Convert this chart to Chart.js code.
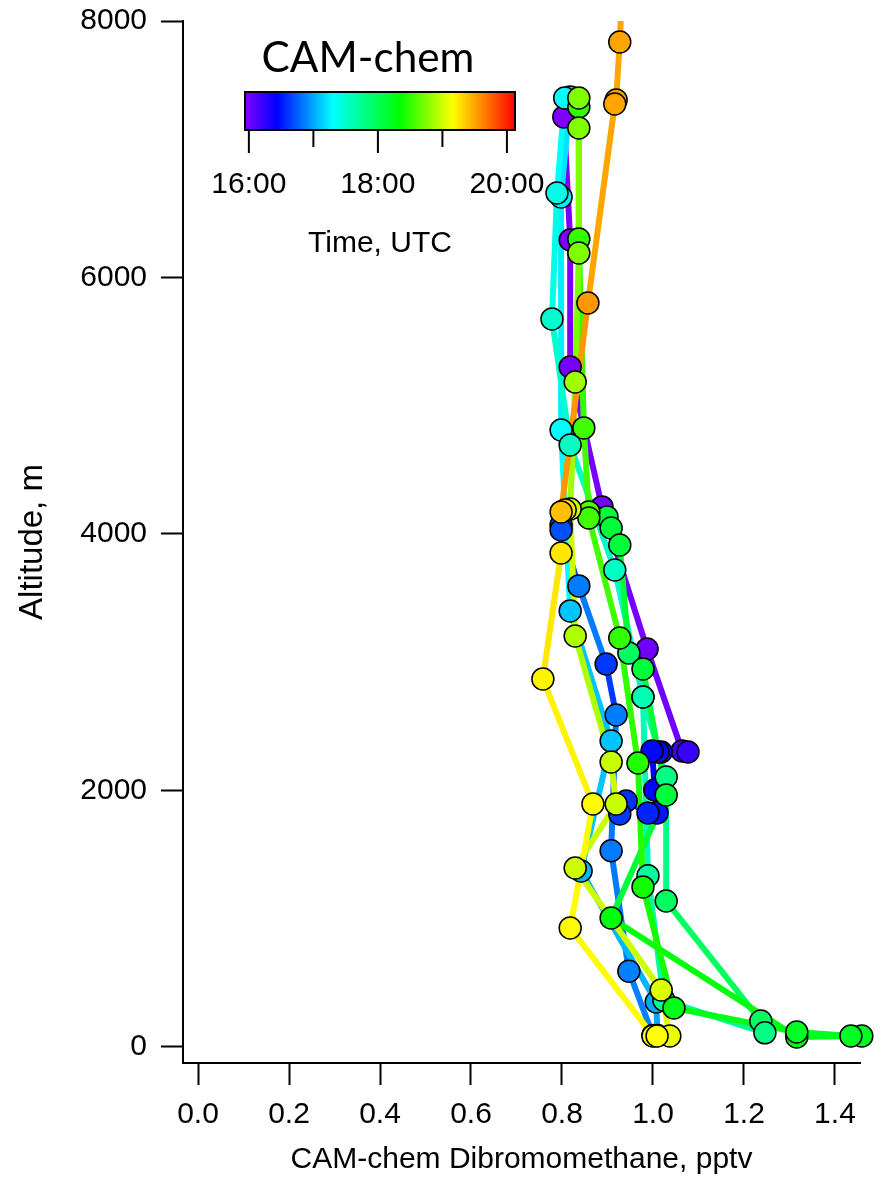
<!DOCTYPE html>
<html>
<head>
<meta charset="utf-8">
<title>CAM-chem Dibromomethane profiles</title>
<script src="https://cdn.jsdelivr.net/npm/chart.js"></script>
<style>
  body { margin: 0; background: #fff; }
  #chart { display: block; }
</style>
</head>
<body>
<canvas id="chart" width="884" height="1182"></canvas>
<script>
// vertical profiles: x = CH2Br2 (pptv), y = altitude (m), t = time (UTC, hours)
const violetX = [0.804, 0.818, 0.818, 0.888, 0.987, 1.064, 1.077];
const violetY = [7252, 6292, 5302, 4211, 3103, 2308, 2300];
const violetT = [15.95, 15.95, 15.97, 15.98, 16.0, 16.2, 16.22];

const blueX = [1.018, 1.011, 0.998, 1.004, 1.009, 0.989, 0.941, 0.927];
const blueY = [2300, 2300, 2308, 2004, 1825, 1825, 1918, 1817];
const blueT = [16.4, 16.42, 16.45, 16.45, 16.5, 16.55, 16.6, 16.62];

const azureX = [0.798, 0.798, 0.837, 0.897, 0.919, 0.908, 0.947, 1.0];
const azureY = [4070, 4031, 3595, 2986, 2589, 1530, 590, 90];
const azureT = [16.7, 16.7, 16.85, 16.62, 16.85, 16.85, 16.87, 16.9];

const cyanX = [0.818, 0.798, 0.798, 0.818, 0.908, 0.842, 1.007, 1.01];
const cyanY = [7407, 6628, 4811, 3400, 2386, 1372, 351, 90];
const cyanT = [17.2, 17.25, 17.3, 17.1, 17.1, 17.05, 17.0, 17.0];

const tealX = [0.806, 0.789, 0.778, 0.818, 0.916, 0.978, 1.029, 1.029, 1.237];
const tealY = [7400, 6659, 5676, 4694, 3719, 2729, 2105, 1138, 203];
const tealT = [17.3, 17.4, 17.5, 17.55, 17.55, 17.6, 17.8, 17.95, 17.95];

const springX = [0.978, 0.989, 1.024, 1.246];
const springY = [2729, 1335, 364, 110];
const springT = [17.6, 17.7, 17.75, 17.8];

const greenX = [0.899, 0.908, 0.927, 0.947, 0.978, 1.029, 0.908, 1.316, 1.459];
const greenY = [4133, 4047, 3914, 3072, 2947, 1965, 1006, 78, 86];
const greenT = [18.1, 18.1, 18.1, 17.95, 18.1, 18.1, 18.3, 18.25, 18.2];

const limeX = [0.837, 0.837, 0.848, 0.859, 0.859, 0.927, 0.967, 0.978, 1.046, 1.316, 1.435];
const limeY = [7329, 6300, 4827, 4172, 4125, 3189, 2214, 1248, 304, 117, 86];
const limeT = [18.5, 18.5, 18.55, 18.6, 18.55, 18.5, 18.45, 18.4, 18.25, 18.2, 18.2];

const chartreuseX = [0.837, 0.837, 0.837, 0.829, 0.818, 0.829, 0.908, 0.919, 0.829, 1.018, 1.037];
const chartreuseY = [7400, 7166, 6191, 5185, 4195, 3205, 2222, 1895, 1396, 444, 86];
const chartreuseT = [18.75, 18.75, 18.75, 18.85, 19.0, 18.9, 18.98, 18.98, 19.0, 19.05, 19.1];

const yellowX = [0.807, 0.798, 0.758, 0.868, 0.818, 1.0, 1.009];
const yellowY = [4187, 3852, 2869, 1895, 928, 86, 86];
const yellowT = [19.25, 19.25, 19.2, 19.17, 19.17, 19.16, 19.16];

const orangeX = [0.935, 0.927, 0.919, 0.916, 0.857, 0.798];
const orangeY = [8500, 7836, 7384, 7353, 5801, 4172];
const orangeT = [19.5, 19.5, 19.5, 19.5, 19.55, 19.4];

// axes
const xMin = -0.033, xMax = 1.455;
const yMin = -125, yMax = 8000;
const xTicks = [0, 0.2, 0.4, 0.6, 0.8, 1.0, 1.2, 1.4];
const yTicks = [0, 2000, 4000, 6000, 8000];

// rainbow colour scale (time, UTC)
const cmapTimes = [15.94, 16.43, 17.3, 18.34, 19.16, 20.125];
const cmapColors = ['#8000ff', '#0000ff', '#00ffff', '#00ff00', '#ffff00', '#ff0000'];
const barTicks = [16, 17, 18, 19, 20];
const barLabels = ['16:00', '', '18:00', '', '20:00'];

const profiles = [
  [violetX, violetY, violetT],
  [blueX, blueY, blueT],
  [azureX, azureY, azureT],
  [cyanX, cyanY, cyanT],
  [tealX, tealY, tealT],
  [springX, springY, springT],
  [greenX, greenY, greenT],
  [limeX, limeY, limeT],
  [chartreuseX, chartreuseY, chartreuseT],
  [yellowX, yellowY, yellowT],
  [orangeX, orangeY, orangeT]
];

const FONT = "'Liberation Sans', Arial, sans-serif";

function hexRgb(h) {
  return [1, 3, 5].map(i => parseInt(h.slice(i, i + 2), 16));
}

function colorOf(t) {
  const n = cmapTimes.length;
  if (t <= cmapTimes[0]) return cmapColors[0];
  if (t >= cmapTimes[n - 1]) return cmapColors[n - 1];
  let i = 0;
  while (t > cmapTimes[i + 1]) i++;
  const f = (t - cmapTimes[i]) / (cmapTimes[i + 1] - cmapTimes[i]);
  const a = hexRgb(cmapColors[i]), b = hexRgb(cmapColors[i + 1]);
  const c = a.map((v, k) => Math.round(v + (b[k] - v) * f));
  return `rgb(${c[0]},${c[1]},${c[2]})`;
}

// lines first (underneath), then markers; later profiles on top
const datasets = [];
profiles.forEach(([xs, ys, ts], i) => {
  const pts = xs.map((x, j) => ({ x, y: ys[j] }));
  datasets.push({
    data: pts,
    showLine: true,
    borderWidth: 6,
    borderColor: colorOf(ts[0]),
    borderJoinStyle: 'round',
    borderCapStyle: 'round',
    segment: { borderColor: c => colorOf(ts[c.p0DataIndex]) },
    pointRadius: 0,
    order: 100 - i
  });
  datasets.push({
    data: pts,
    showLine: false,
    clip: false,
    pointRadius: 11,
    pointBackgroundColor: ts.map(colorOf),
    pointBorderColor: '#000',
    pointBorderWidth: 1.5,
    order: -i
  });
});

// colour bar with the "CAM-chem" heading, top left of the plot
const colorBar = {
  id: 'colorBar',
  afterDraw(chart) {
    const ctx = chart.ctx;
    const left = 245, right = 515, top = 92, bottom = 130;
    const t0 = cmapTimes[0], t1 = cmapTimes[cmapTimes.length - 1];
    const tx = t => left + (t - t0) / (t1 - t0) * (right - left);
    ctx.save();
    const grad = ctx.createLinearGradient(left, 0, right, 0);
    cmapTimes.forEach((t, i) => grad.addColorStop((t - t0) / (t1 - t0), cmapColors[i]));
    ctx.fillStyle = grad;
    ctx.fillRect(left, top, right - left, bottom - top);
    ctx.strokeStyle = '#000';
    ctx.lineWidth = 2;
    ctx.strokeRect(left, top, right - left, bottom - top);

    ctx.fillStyle = '#000';
    ctx.font = '30px ' + FONT;
    ctx.textAlign = 'center';
    ctx.textBaseline = 'middle';
    barTicks.forEach((t, i) => {
      const x = tx(t);
      ctx.beginPath();
      ctx.moveTo(x, bottom);
      ctx.lineTo(x, bottom + (barLabels[i] ? 23 : 17));
      ctx.stroke();
      if (barLabels[i]) ctx.fillText(barLabels[i], x, 185);
    });
    ctx.fillText('Time, UTC', 380, 244);

    // heading, sized to the width of the original
    ctx.font = "40px Lato, 'Open Sans', sans-serif";
    const w = ctx.measureText('CAM-chem').width;
    ctx.font = `${(40 * 213 / w).toFixed(1)}px Lato, 'Open Sans', sans-serif`;
    ctx.fillText('CAM-chem', 368, 58);
    ctx.restore();
  }
};

new Chart(document.getElementById('chart'), {
  type: 'scatter',
  data: { datasets },
  plugins: [colorBar],
  options: {
    responsive: false,
    animation: false,
    events: [],
    devicePixelRatio: 1,
    layout: { padding: { top: 21, right: 24, left: 0, bottom: 0 } },
    plugins: { legend: { display: false }, tooltip: { enabled: false } },
    scales: {
      x: {
        type: 'linear',
        min: xMin,
        max: xMax,
        afterBuildTicks: s => { s.ticks = xTicks.map(v => ({ value: v })); },
        afterFit: s => { s.height = 119; s.paddingLeft = 0; s.paddingRight = 0; },
        grid: { drawOnChartArea: false, drawTicks: true, tickLength: 22, tickWidth: 2, tickColor: '#000' },
        border: { display: true, color: '#000', width: 2 },
        ticks: {
          color: '#000', font: { family: FONT, size: 30 }, padding: 12,
          maxRotation: 0, autoSkip: false,
          callback: v => Number(v).toFixed(1)
        },
        title: {
          display: true, text: 'CAM-chem Dibromomethane, pptv', color: '#000',
          font: { family: FONT, size: 30 }, padding: { top: 0, bottom: 4 }
        }
      },
      y: {
        type: 'linear',
        min: yMin,
        max: yMax,
        afterBuildTicks: s => { s.ticks = yTicks.map(v => ({ value: v })); },
        afterFit: s => { s.width = 183; s.paddingTop = 0; s.paddingBottom = 0; },
        grid: { drawOnChartArea: false, drawTicks: true, tickLength: 22, tickWidth: 2, tickColor: '#000' },
        border: { display: true, color: '#000', width: 2 },
        ticks: {
          color: '#000', font: { family: FONT, size: 30 }, padding: 14,
          autoSkip: false, callback: v => String(v)
        },
        title: {
          display: true, text: 'Altitude, m', color: '#000',
          font: { family: FONT, size: 33 }, padding: { top: 13, bottom: 0 }
        }
      }
    }
  }
});
</script>
</body>
</html>
